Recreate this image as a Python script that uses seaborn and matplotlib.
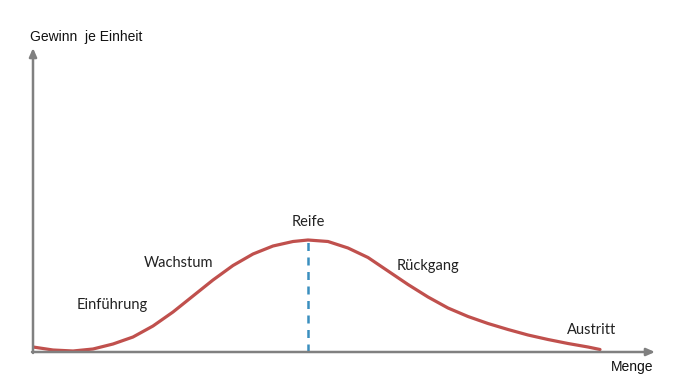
import pandas as pd
import seaborn as sns
import matplotlib.pyplot as plt

# Curve (x = quantity, y = profit per unit)
menge = [0, 20, 40, 60, 80, 100, 120, 140, 160, 180, 200, 220, 240, 260, 275,
         295, 315, 335, 355, 375, 395, 415, 435, 455, 475, 495, 515, 535, 555, 567]
gewinn = [5, 2, 1, 3, 8, 15, 26, 40, 56, 72, 86.5, 98, 106, 110.5, 112,
          110.5, 104, 94.5, 81, 67.5, 55, 44, 35.5, 28.5, 22.5, 17, 12.5, 8.5, 5, 2.5]
phasen = ['Einführung', 'Wachstum', 'Reife', 'Rückgang', 'Austritt']
peak_x = 275

df = pd.DataFrame({'Menge': menge, 'Gewinn': gewinn})

sns.set_style('white')
fig = plt.figure(figsize=(6.83, 3.85), dpi=100)
ax = fig.add_axes([33 / 683, 33 / 385, 622 / 683, 304 / 385])
ax.set_xlim(0, 622)
ax.set_ylim(0, 304)

sns.lineplot(data=df, x='Menge', y='Gewinn', ax=ax, color='#c0504d',
             linewidth=2.3, sort=False)
ax.plot([peak_x, peak_x], [0, max(gewinn)], color='#3a8fbf', linewidth=1.8,
        linestyle=(0, (3.2, 2.6)), zorder=1)

# Axes with arrow heads
for sp in ax.spines.values():
    sp.set_visible(False)
ax.set_xticks([])
ax.set_yticks([])
ax.set_xlabel('')
ax.set_ylabel('')
arrow = dict(arrowstyle='-|>,head_length=0.5,head_width=0.22', color='#808080',
             linewidth=1.8, shrinkA=0, shrinkB=0)
ax.annotate('', xy=(622, 0), xytext=(-1, 0), arrowprops=arrow, annotation_clip=False)
ax.annotate('', xy=(0, 304), xytext=(0, -1), arrowprops=arrow, annotation_clip=False)

# Phase labels
lab_font = dict(family='Lato', size=10.5, color='#222222', ha='center', va='center')
label_pos = [(79, 47), (146, 89), (275, 130), (395, 86), (559, 22)]
for name, (lx, ly) in zip(phasen, label_pos):
    ax.text(lx, ly, name, **lab_font)

ax.text(-3, 315, 'Gewinn  je Einheit', family='Liberation Sans', size=10,
        color='#111111', ha='left', va='center')
ax.text(620, -15, 'Menge', family='Liberation Sans', size=10,
        color='#111111', ha='right', va='center')

fig.savefig('out.png', dpi=100)
